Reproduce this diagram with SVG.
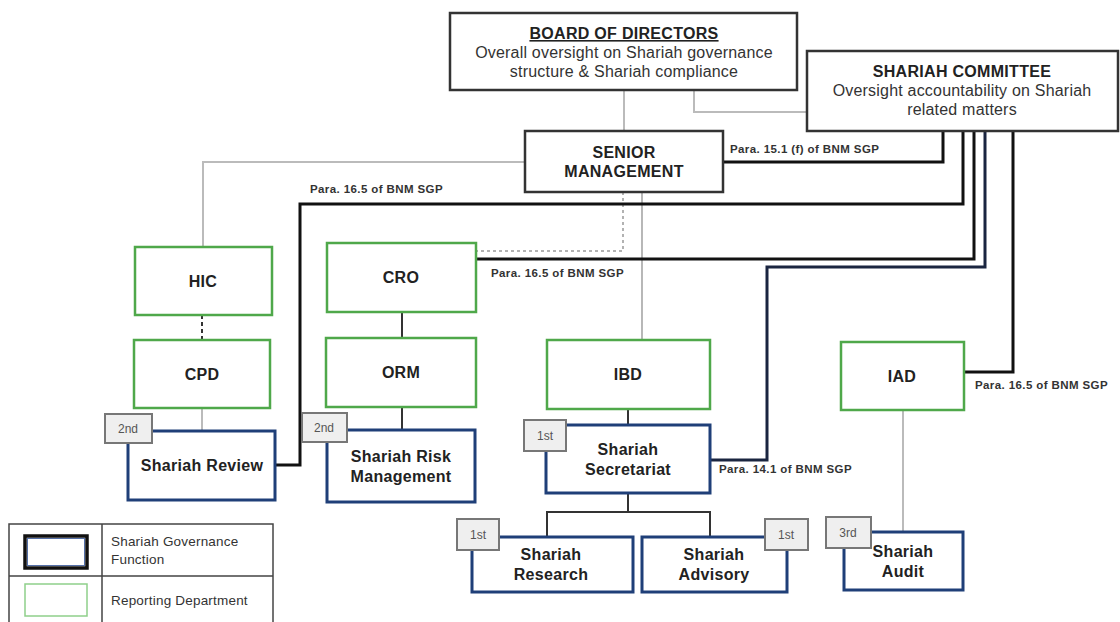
<svg xmlns="http://www.w3.org/2000/svg" width="1120" height="622" viewBox="0 0 1120 622">
<style>
.top{fill:#fff;stroke:#333;stroke-width:2.5}
.rep{fill:#fff;stroke:#4fa84a;stroke-width:2.5}
.gov{fill:#fff;stroke:#1f3f78;stroke-width:3}
.badge{fill:#efefef;stroke:#777;stroke-width:2}
.bt{font-family:"Liberation Sans",Arial,sans-serif;font-size:12px;fill:#555;text-anchor:middle}
.lbl{font-family:"Liberation Sans",Arial,sans-serif;font-weight:bold;font-size:16px;letter-spacing:0.3px;fill:#222;text-anchor:middle}
.sub{font-family:"Liberation Sans",Arial,sans-serif;font-size:16px;letter-spacing:0.2px;fill:#333;text-anchor:middle}
.para{font-family:"Liberation Sans",Arial,sans-serif;font-weight:bold;font-size:11.5px;letter-spacing:0.4px;fill:#333}
.leg{font-family:"Liberation Sans",Arial,sans-serif;font-size:13.5px;letter-spacing:0.2px;fill:#333}
.blk{fill:none;stroke:#111;stroke-width:3}
.gry{fill:none;stroke:#bbb;stroke-width:2}
.thin{fill:none;stroke:#888;stroke-width:1.2}
.dk{fill:none;stroke:#333;stroke-width:2}
</style>
<rect width="1120" height="622" fill="#fff"/>
<g id="connectors">
<path class="gry" d="M624 90V131"/>
<path class="gry" d="M694 90V112H807"/>
<path class="gry" d="M525 162H203V247"/>
<path class="gry" d="M202 408V431"/>
<path class="gry" d="M903 410V532"/>
<path class="thin" d="M642 192V340"/>
<path fill="none" stroke="#999" stroke-width="1.5" stroke-dasharray="3,3" d="M623 192V251H476"/>
<path fill="none" stroke="#333" stroke-width="2" stroke-dasharray="4,3" d="M202 315V340"/>
<path class="dk" d="M402 312V338"/>
<path class="dk" d="M402 407V430"/>
<path class="dk" d="M628 409V425"/>
<path class="dk" d="M628 493V512M547 537V512H710V537"/>
<path class="blk" d="M943 131V162H723"/>
<path class="blk" d="M963 131V204H300V465H275"/>
<path class="blk" d="M974 131V259H476"/>
<path fill="none" stroke="#1a2540" stroke-width="3" d="M985 131V267H767V460H710"/>
<path class="blk" d="M1013 131V372H964"/>
<text class="para" x="730" y="153">Para. 15.1 (f) of BNM SGP</text>
<text class="para" x="310" y="193">Para. 16.5 of BNM SGP</text>
<text class="para" x="491" y="277">Para. 16.5 of BNM SGP</text>
<text class="para" x="719" y="473">Para. 14.1 of BNM SGP</text>
<text class="para" x="975" y="389">Para. 16.5 of BNM SGP</text>
</g>
<g id="board">
<rect class="top" x="450" y="13" width="347" height="77"/>
<text class="lbl" x="624" y="39" text-decoration="underline">BOARD OF DIRECTORS</text>
<text class="sub" x="624" y="58">Overall oversight on Shariah governance</text>
<text class="sub" x="624" y="77">structure &amp; Shariah compliance</text>
</g>
<g id="shariah-committee">
<rect class="top" x="807" y="51" width="311" height="80"/>
<text class="lbl" x="962" y="77">SHARIAH COMMITTEE</text>
<text class="sub" x="962" y="96">Oversight accountability on Shariah</text>
<text class="sub" x="962" y="115">related matters</text>
</g>
<g id="senior-management">
<rect class="top" x="525" y="131" width="198" height="61"/>
<text class="lbl" x="624" y="158">SENIOR</text>
<text class="lbl" x="624" y="177">MANAGEMENT</text>
</g>
<g id="hic"><rect class="rep" x="135" y="247" width="137" height="68"/><text class="lbl" x="203" y="287">HIC</text></g>
<g id="cro"><rect class="rep" x="327" y="243" width="149" height="69"/><text class="lbl" x="401" y="283">CRO</text></g>
<g id="cpd"><rect class="rep" x="134" y="340" width="136" height="68"/><text class="lbl" x="202" y="380">CPD</text></g>
<g id="orm"><rect class="rep" x="326" y="338" width="150" height="69"/><text class="lbl" x="401" y="378">ORM</text></g>
<g id="ibd"><rect class="rep" x="547" y="340" width="163" height="69"/><text class="lbl" x="628" y="380">IBD</text></g>
<g id="iad"><rect class="rep" x="841" y="342" width="123" height="68"/><text class="lbl" x="902" y="382">IAD</text></g>
<g id="shariah-review">
<rect class="gov" x="128" y="431" width="147" height="69"/>
<text class="lbl" x="202" y="471">Shariah Review</text>
<rect class="badge" x="105" y="414" width="47" height="29"/><text class="bt" x="128" y="433">2nd</text>
</g>
<g id="shariah-risk">
<rect class="gov" x="327" y="430" width="148" height="72"/>
<text class="lbl" x="401" y="462">Shariah Risk</text>
<text class="lbl" x="401" y="482">Management</text>
<rect class="badge" x="302" y="413" width="45" height="29"/><text class="bt" x="324" y="432">2nd</text>
</g>
<g id="shariah-secretariat">
<rect class="gov" x="546" y="425" width="164" height="68"/>
<text class="lbl" x="628" y="455">Shariah</text>
<text class="lbl" x="628" y="475">Secretariat</text>
<rect class="badge" x="524" y="420" width="42" height="31"/><text class="bt" x="545" y="440">1st</text>
</g>
<g id="shariah-research">
<rect class="gov" x="472" y="537" width="161" height="55"/>
<text class="lbl" x="551" y="560">Shariah</text>
<text class="lbl" x="551" y="580">Research</text>
<rect class="badge" x="457" y="519" width="42" height="31"/><text class="bt" x="478" y="539">1st</text>
</g>
<g id="shariah-advisory">
<rect class="gov" x="642" y="537" width="145" height="55"/>
<text class="lbl" x="714" y="560">Shariah</text>
<text class="lbl" x="714" y="580">Advisory</text>
<rect class="badge" x="765" y="519" width="43" height="31"/><text class="bt" x="786" y="539">1st</text>
</g>
<g id="shariah-audit">
<rect class="gov" x="844" y="532" width="119" height="58"/>
<text class="lbl" x="903" y="557">Shariah</text>
<text class="lbl" x="903" y="577">Audit</text>
<rect class="badge" x="826" y="517" width="45" height="31"/><text class="bt" x="848" y="537">3rd</text>
</g>
<g id="legend">
<rect x="9" y="524" width="264" height="104" fill="#fff" stroke="#444" stroke-width="1.5"/>
<path d="M102 524V628M9 576H273" stroke="#444" stroke-width="1.5"/>
<rect x="25" y="536" width="62" height="32" fill="#fff" stroke="#111" stroke-width="3.5"/>
<rect x="27.5" y="538.5" width="57" height="27" fill="none" stroke="#5570a8" stroke-width="1"/>
<rect x="25" y="584" width="62" height="32" fill="#fff" stroke="#8fcf8a" stroke-width="1.5"/>
<text class="leg" x="111" y="546">Shariah Governance</text>
<text class="leg" x="111" y="564">Function</text>
<text class="leg" x="111" y="605">Reporting Department</text>
</g>
</svg>
